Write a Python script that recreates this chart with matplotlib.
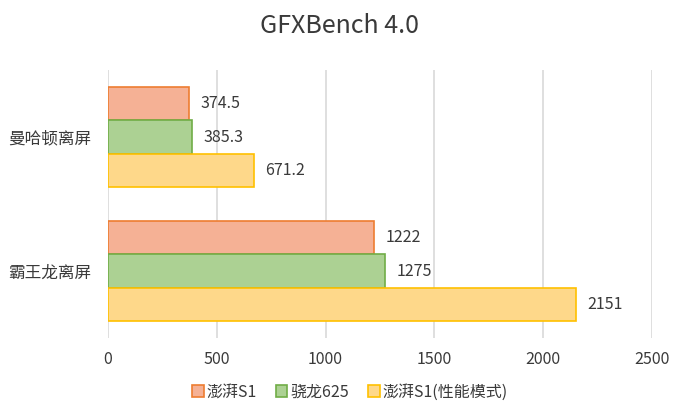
import numpy as np
import matplotlib.pyplot as plt

plt.rcParams['font.family'] = ['Noto Sans CJK SC', 'DejaVu Sans']

categories = ['霸王龙离屏', '曼哈顿离屏']
series_names = ['澎湃S1', '骁龙625', '澎湃S1(性能模式)']
s1 = [1222, 374.5]
sd625 = [1275, 385.3]
s1_perf = [2151, 671.2]
labels = [['1222', '374.5'], ['1275', '385.3'], ['2151', '671.2']]

fills = ['#f5b195', '#acd193', '#fed88a']
edges = ['#ed7d31', '#70ad47', '#ffc000']
txt = '#3a3a3a'

fig = plt.figure(figsize=(6.8, 4.11), dpi=100)
ax = fig.add_axes([108 / 680, 1 - 338 / 411, (652 - 108) / 680, (338 - 70) / 411])

y = np.arange(len(categories))
h = 0.25
values = [s1, sd625, s1_perf]
for i, vals in enumerate(values):
    pos = y + h - i * h
    ax.barh(pos, vals, height=h, color=fills[i], edgecolor=edges[i], linewidth=1.2,
            label=series_names[i], zorder=3)
    for p, v, t in zip(pos, vals, labels[i]):
        ax.text(v + 52, p, t, va='center', ha='left', fontsize=11.5, color=txt)

ax.set_xlim(0, 2500)
ax.set_ylim(-0.5, 1.5)
ax.set_xticks(np.arange(0, 2501, 500))
ax.set_yticks(y)
ax.set_yticklabels(categories, fontsize=12)
ax.tick_params(axis='both', length=0, labelsize=11.5, colors=txt)
ax.tick_params(axis='x', pad=9)
ax.tick_params(axis='y', pad=12, labelsize=12)
ax.grid(axis='x', color='#d9d9d9', linewidth=1.2, zorder=0)
for s in ax.spines.values():
    s.set_visible(False)

fig.text(0.5, 1 - 26 / 411, 'GFXBench 4.0', ha='center', va='center', fontsize=18, color=txt)

handles, lbls = ax.get_legend_handles_labels()
fig.legend(handles, lbls, loc='center', bbox_to_anchor=(0.515, 1 - 392 / 411), ncol=3, frameon=False,
           fontsize=11.5, handlelength=0.7, handleheight=0.7, handletextpad=0.2, columnspacing=1.2,
           labelcolor=txt)

fig.savefig('out.png', dpi=100)
